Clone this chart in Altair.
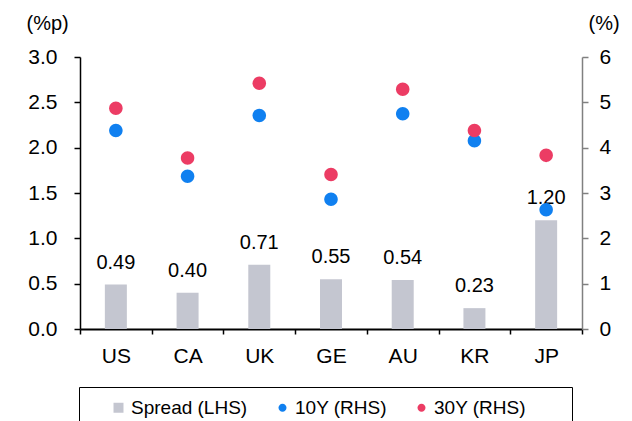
import altair as alt
import pandas as pd

countries = ["US", "CA", "UK", "GE", "AU", "KR", "JP"]
spread = [0.49, 0.40, 0.71, 0.55, 0.54, 0.23, 1.20]
y10 = [4.38, 3.37, 4.71, 2.86, 4.75, 4.15, 2.63]
y30 = [4.87, 3.77, 5.42, 3.41, 5.29, 4.38, 3.83]
series_names = ["Spread (LHS)", "10Y (RHS)", "30Y (RHS)"]
colors = ["#c4c6d0", "#1080f0", "#ec3c64"]
left_ticks = [0, 0.5, 1.0, 1.5, 2.0, 2.5, 3.0]
right_ticks = [0, 1, 2, 3, 4, 5, 6]

FONT = "Liberation Sans"

bar_df = pd.DataFrame({"country": countries, "value": spread, "series": series_names[0]})
pt_df = pd.DataFrame({
    "country": countries * 2,
    "value": y10 + y30,
    "series": [series_names[1]] * len(countries) + [series_names[2]] * len(countries),
})

square_path = "M-1,-1H1V1H-1Z"
circle_path = "M0.8,0A0.8,0.8,0,1,1,-0.8,0A0.8,0.8,0,1,1,0.8,0Z"

pad_str = " " * 4 + "\u2800"
legend = alt.Legend(
    orient="none", legendX=-1, legendY=330, direction="horizontal",
    title=" ", titleOrient="left", titlePadding=19, titleFontSize=18,
    padding=11, strokeColor="black", fillColor="white",
    symbolSize=100, symbolStrokeWidth=0, labelFontSize=19, labelFont=FONT,
    labelOffset=3, columnPadding=25, labelColor="black",
    labelExpr="datum.label == '30Y (RHS)' ? datum.label + '" + pad_str + "' : datum.label",
)

color = alt.Color("series:N", scale=alt.Scale(domain=series_names, range=colors), legend=legend)
shape = alt.Shape("series:N", scale=alt.Scale(domain=series_names,
                  range=[square_path, circle_path, circle_path]), legend=legend)

x = alt.X("country:N", sort=countries,
          scale=alt.Scale(paddingInner=0, paddingOuter=0),
          axis=alt.Axis(title=None, labelAngle=0, tickBand="extent", tickSize=5,
                        domainColor="black", domainWidth=2, tickColor="black",
                        tickWidth=1.5, labelPadding=11, labelFontSize=21,
                        labelFont=FONT, labelColor="black"))

left_axis = alt.Axis(values=left_ticks, format=".1f", domainColor="black", domainWidth=1.5,
                     tickColor="black", tickWidth=1.5, tickSize=6, labelPadding=17,
                     labelFontSize=21, labelFont=FONT, labelColor="black", grid=False,
                     title="(%p)", titleAngle=0, titleAlign="left", titleBaseline="alphabetic",
                     titleX=-54, titleY=-28, titleFontSize=20, titleFont=FONT,
                     titleFontWeight="normal", titleColor="black")

right_axis = alt.Axis(orient="right", values=right_ticks, format="d", domainColor="#808080",
                      domainWidth=1.5, tickColor="#808080", tickWidth=1.5, tickSize=6,
                      labelPadding=11, labelFontSize=21, labelFont=FONT, labelColor="black",
                      grid=False, title="(%)", titleAngle=0, titleAlign="left",
                      titleBaseline="alphabetic", titleX=6, titleY=-28, titleFontSize=20,
                      titleFont=FONT, titleFontWeight="normal", titleColor="black")

ly = alt.Y("value:Q", scale=alt.Scale(domain=[0, 3], nice=False), axis=left_axis)

bars = alt.Chart(bar_df).mark_bar(size=22).encode(x=x, y=ly, color=color)
labels = alt.Chart(bar_df).mark_text(dy=-16, baseline="alphabetic", fontSize=20,
                                     font=FONT, color="black").encode(
    x=x, y=ly, text=alt.Text("value:Q", format=".2f"))

points = alt.Chart(pt_df).mark_point(filled=True, size=285, opacity=1).encode(
    x=x,
    y=alt.Y("value:Q", scale=alt.Scale(domain=[0, 6], nice=False), axis=right_axis),
    color=color, shape=shape)

chart = alt.layer(alt.layer(bars, labels), points).resolve_scale(y="independent").properties(
    width=502, height=272,
    autosize=alt.AutoSizeParams(type="none"),
    padding={"left": 80, "top": 57, "right": 50, "bottom": 92},
).configure(font=FONT).configure_view(stroke=None).configure_legend(strokeWidth=1)

chart.save("out.html", embed_options={"renderer": "svg", "actions": False})
